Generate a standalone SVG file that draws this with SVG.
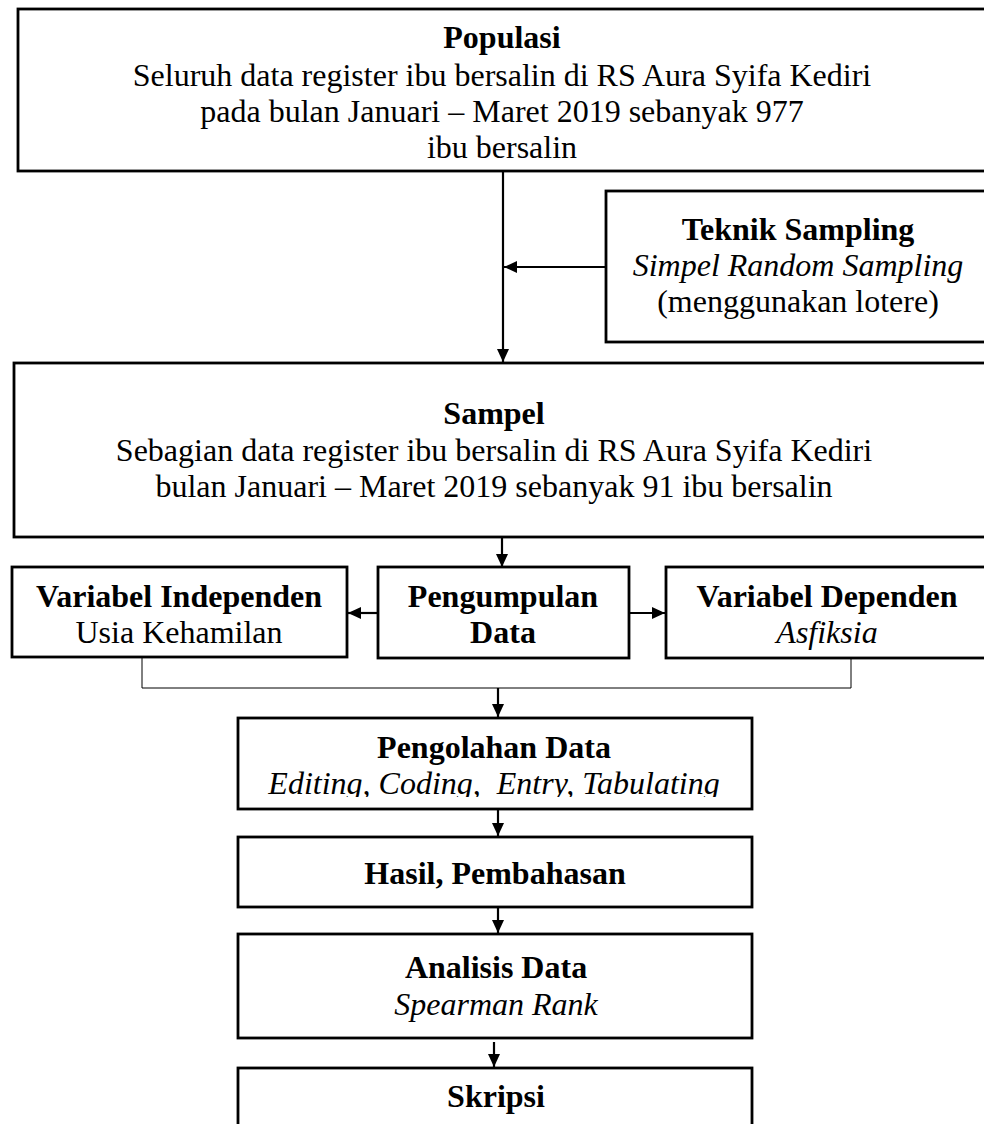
<svg xmlns="http://www.w3.org/2000/svg" width="984" height="1124" viewBox="0 0 984 1124">
<style>
.box{fill:#fff;stroke:#000;stroke-width:2.8}
text{font-family:"Liberation Serif","Times New Roman",serif;font-size:32px;fill:#000;text-anchor:middle}
.b{font-weight:bold}
.i{font-style:italic}
.c{fill:none;stroke:#000;stroke-width:2.2}
.t{fill:none;stroke:#000;stroke-width:1}
</style>
<defs>
<marker id="ah" markerUnits="userSpaceOnUse" markerWidth="14" markerHeight="14" viewBox="0 0 14 14" refX="13" refY="7" orient="auto">
<path d="M0,1 L13,7 L0,13 Z" fill="#000"/>
</marker>
<clipPath id="clipEd"><rect x="0" y="700" width="984" height="97"/></clipPath>
</defs>
<rect width="984" height="1124" fill="#fff"/>
<g id="connectors">
<line class="c" x1="503" y1="171" x2="503" y2="362" marker-end="url(#ah)"/>
<line class="c" x1="606" y1="267" x2="504" y2="267" marker-end="url(#ah)"/>
<line class="c" x1="502" y1="537" x2="502" y2="567" marker-end="url(#ah)"/>
<line class="c" x1="378" y1="613" x2="348" y2="613" marker-end="url(#ah)"/>
<line class="c" x1="629" y1="613" x2="665" y2="613" marker-end="url(#ah)"/>
<polyline class="t" points="142,657 142,688 851,688 851,658"/>
<line class="c" x1="498" y1="688" x2="498" y2="717" marker-end="url(#ah)"/>
<line class="c" x1="498" y1="809" x2="498" y2="836" marker-end="url(#ah)"/>
<line class="c" x1="498" y1="907" x2="498" y2="933" marker-end="url(#ah)"/>
<line class="c" x1="494" y1="1042" x2="494" y2="1067" marker-end="url(#ah)"/>
</g>
<g id="populasi">
<rect class="box" x="18" y="9" width="980" height="162"/>
<text class="b" x="502" y="48">Populasi</text>
<text x="502" y="86">Seluruh data register ibu bersalin di RS Aura Syifa Kediri</text>
<text x="502" y="122">pada bulan Januari – Maret 2019 sebanyak 977</text>
<text x="502" y="158">ibu bersalin</text>
</g>
<g id="teknik">
<rect class="box" x="606" y="191" width="392" height="151"/>
<text class="b" x="798" y="240">Teknik Sampling</text>
<text class="i" x="798" y="276">Simpel Random Sampling</text>
<text x="798" y="312">(menggunakan lotere)</text>
</g>
<g id="sampel">
<rect class="box" x="14" y="363" width="984" height="174"/>
<text class="b" x="494" y="424">Sampel</text>
<text x="494" y="461">Sebagian data register ibu bersalin di RS Aura Syifa Kediri</text>
<text x="494" y="497">bulan Januari – Maret 2019 sebanyak 91 ibu bersalin</text>
</g>
<g id="independen">
<rect class="box" x="12" y="567" width="335" height="90"/>
<text class="b" x="179" y="607">Variabel Independen</text>
<text x="179" y="643">Usia Kehamilan</text>
</g>
<g id="pengumpulan">
<rect class="box" x="378" y="567" width="251" height="91"/>
<text class="b" x="503" y="607">Pengumpulan</text>
<text class="b" x="503" y="643">Data</text>
</g>
<g id="dependen">
<rect class="box" x="666" y="567" width="332" height="91"/>
<text class="b" x="827" y="607">Variabel Dependen</text>
<text class="i" x="827" y="643">Asfiksia</text>
</g>
<g id="pengolahan">
<rect class="box" x="238" y="718" width="514" height="91"/>
<text class="b" x="494" y="758">Pengolahan Data</text>
<text class="i" x="494" y="794" clip-path="url(#clipEd)" xml:space="preserve">Editing, Coding,  Entry, Tabulating</text>
</g>
<g id="hasil">
<rect class="box" x="238" y="837" width="514" height="70"/>
<text class="b" x="495" y="884">Hasil, Pembahasan</text>
</g>
<g id="analisis">
<rect class="box" x="238" y="934" width="514" height="104"/>
<text class="b" x="496" y="978">Analisis Data</text>
<text class="i" x="496" y="1015">Spearman Rank</text>
</g>
<g id="skripsi">
<rect class="box" x="238" y="1068" width="514" height="80"/>
<text class="b" x="496" y="1107">Skripsi</text>
</g>
</svg>
